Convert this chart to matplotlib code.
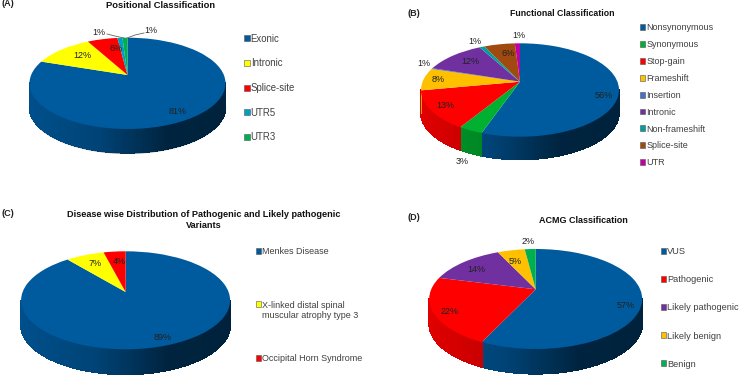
import numpy as np
import matplotlib
matplotlib.use('Agg')
import matplotlib.pyplot as plt
from matplotlib.patches import Patch, Rectangle
from matplotlib.legend_handler import HandlerPatch
from matplotlib.collections import PolyCollection
from matplotlib.transforms import Transform
from matplotlib.colors import to_rgb

plt.rcParams['font.family'] = ['Liberation Sans', 'DejaVu Sans']

BLUE = '#005a9e'
YELLOW = '#ffff00'
RED = '#ff0000'
AMBER = '#ffc000'
GREEN = '#00b050'
PURPLE = '#7030a0'

# panel A
pos_labels = ['Exonic', 'Intronic', 'Splice-site', 'UTR5', 'UTR3']
pos_values = [81, 12, 6, 1, 1]
pos_colors = [BLUE, YELLOW, RED, '#00a0c0', GREEN]
# panel B
func_labels = ['Nonsynonymous', 'Synonymous', 'Stop-gain', 'Frameshift', 'Insertion',
               'Intronic', 'Non-frameshift', 'Splice-site', 'UTR']
func_values = [55.6, 3.4, 13.4, 7.8, 0.3, 12, 1, 6, 1]
func_colors = [BLUE, '#00b030', RED, AMBER, '#4472c4', PURPLE, '#00a0a0', '#a04a10', '#c000a0']
# panel C
dis_labels = ['Menkes Disease', 'X-linked distal spinal\nmuscular atrophy type 3', 'Occipital Horn Syndrome']
dis_values = [89, 7, 4]
dis_colors = [BLUE, YELLOW, RED]
# panel D
acmg_labels = ['VUS', 'Pathogenic', 'Likely pathogenic', 'Likely benign', 'Benign']
acmg_values = [57, 22, 14, 5, 2]
acmg_colors = [BLUE, RED, PURPLE, AMBER, GREEN]


class Tilt(Transform):
    # unit pie -> tilted disc in pixel coords, back of the disc is foreshortened
    input_dims = 2
    output_dims = 2

    def __init__(self, cx, cy, rx, ry, p):
        super().__init__()
        self.cx, self.cy, self.rx, self.ry, self.p = cx, cy, rx, ry, p

    def transform_non_affine(self, xy):
        xy = np.asarray(xy, dtype=float)
        w = 1 + self.p * xy[:, 1]
        return np.column_stack([self.cx + self.rx * xy[:, 0] / w,
                                self.cy - self.ry * xy[:, 1] / w])


def side_shade(t):
    # lit on the left, darkest right of the middle
    return np.interp(t, [0, 0.35, 0.7, 1], [0.88, 0.75, 0.4, 0.38])


def draw_pie(ax, values, colors, cx, cy, half, up, down, depth, shadow=False):
    p = (down - up) / (down + up)
    ry = up * (1 + p)
    rx = half * np.sqrt(1 - p * p)
    tilt = Tilt(cx, cy, rx, ry, p)

    if shadow:
        ang = np.radians(np.linspace(180, 360, 200))
        low = tilt.transform_non_affine(np.column_stack([np.cos(ang), np.sin(ang)]))
        ax.plot(low[:, 0], low[:, 1] + depth + 0.6, color='#777777', lw=0.9, zorder=0.5)

    # rim, built from the same slices as the top
    edges = 90 - 360 * np.cumsum([0] + list(values)) / np.sum(values)
    for a0, a1, col in zip(edges[:-1], edges[1:], colors):
        ang = np.radians(np.arange(a0, a1 - 0.5, -0.5).tolist() + [a1])
        rim = tilt.transform_non_affine(np.column_stack([np.cos(ang), np.sin(ang)]))
        quads, cols = [], []
        base = np.array(to_rgb(col))
        for i in range(len(ang) - 1):
            # only the part of the rim in front of the widest points shows
            if np.sin(ang[i]) > -p and np.sin(ang[i + 1]) > -p:
                continue
            a, b = rim[i], rim[i + 1]
            quads.append([a, b, b + [0, depth], a + [0, depth]])
            t = (a[0] - (cx - half)) / (2 * half)
            cols.append(tuple(base * side_shade(t)))
        if quads:
            ax.add_collection(PolyCollection(quads, facecolors=cols, edgecolors=cols,
                                             linewidths=0.6, antialiaseds=False, zorder=1))

    wedges, _ = ax.pie(values, colors=colors, startangle=90, counterclock=False,
                       labeldistance=None, wedgeprops={'linewidth': 0})
    for w in wedges:
        w.set_transform(tilt + ax.transData)
        w.set_zorder(2)


def square(legend, orig_handle, xdescent, ydescent, width, height, fontsize):
    # wrapped labels keep their square on the first line
    lift = 0.75 if '\n' in orig_handle.get_label() else 0
    return Rectangle((-xdescent, -ydescent + lift * fontsize), width, height)


def add_legend(labels, colors, x, y, gap, size):
    handles = [Patch(facecolor=c, edgecolor='#555555', linewidth=0.4, label=s)
               for c, s in zip(colors, labels)]
    hmap = {h: HandlerPatch(patch_func=square) for h in handles}
    fig.legend(handles=handles, loc='upper left', bbox_to_anchor=(x / 745, 1 - y / 375),
               frameon=False, fontsize=size, handlelength=0.55, handleheight=0.6,
               handletextpad=0.1, labelspacing=gap, borderpad=0, borderaxespad=0,
               labelcolor='#404040', handler_map=hmap)


fig = plt.figure(figsize=(7.45, 3.75), dpi=100)
ax = fig.add_axes([0, 0, 1, 1])

draw_pie(ax, pos_values, pos_colors, 127.5, 75, 98, 37.3, 54, 23.7, shadow=True)
draw_pie(ax, func_values, func_colors, 520, 81.7, 99, 38.4, 55, 22.7)
draw_pie(ax, dis_values, dis_colors, 125.6, 292, 104.5, 40.7, 57.3, 25)
draw_pie(ax, acmg_values, acmg_colors, 535.7, 289.3, 106.5, 40.3, 59.7, 24.7)

ax.set_aspect('auto')
ax.set_xlim(0, 745)
ax.set_ylim(375, 0)
ax.axis('off')

# panel letters and titles
for s, x, y in [('(A)', 1, 4), ('(B)', 408, 14), ('(C)', 2, 213), ('(D)', 407, 217)]:
    ax.text(x, y, s, fontsize=6.5, fontweight='bold', color='#222222', va='center')
for s, x, y, size in [('Positional Classification', 161, 5, 6.75),
                      ('Functional Classification', 562, 14, 6.3),
                      ('Disease wise Distribution of Pathogenic and Likely pathogenic\nVariants', 204, 220, 6.55),
                      ('ACMG Classification', 583.5, 220.7, 6.5)]:
    ax.text(x, y, s, fontsize=size, fontweight='bold', color='#111111', ha='center', va='center')

# value labels
value_text = [('81%', 178, 111.5), ('12%', 82, 55.7), ('6%', 116, 48.7), ('1%', 99, 32.7), ('1%', 151, 30.7),
              ('56%', 604, 96), ('3%', 462, 162), ('13%', 445, 106), ('8%', 438, 80),
              ('1%', 424, 63), ('12%', 470, 62), ('1%', 475, 41), ('6%', 508, 54), ('1%', 519, 35),
              ('89%', 163, 337), ('7%', 95, 264), ('4%', 119, 262),
              ('57%', 626, 306), ('22%', 450, 312), ('14%', 476, 270), ('5%', 515, 261), ('2%', 528, 242)]
for s, x, y in value_text:
    ax.text(x, y, s, fontsize=6.5, color='#222222', ha='center', va='center', zorder=4)

# leader lines of panel A
ax.plot([107, 115, 124], [34, 36, 38], color='#666666', lw=0.6, zorder=3)
ax.plot([127, 135, 144], [38, 35, 33], color='#666666', lw=0.6, zorder=3)

add_legend(pos_labels, pos_colors, 244.4, 33.6, 1.53, 6.9)
add_legend(func_labels, func_colors, 640.3, 23.4, 0.87, 6.5)
add_legend(dis_labels[:2], dis_colors[:2], 256, 247.4, 4.9, 6.5)
add_legend(dis_labels[2:], dis_colors[2:], 256, 354, 0, 6.5)
add_legend(acmg_labels, acmg_colors, 661.3, 247.3, 2.05, 6.7)

fig.savefig('out.png', dpi=100)
